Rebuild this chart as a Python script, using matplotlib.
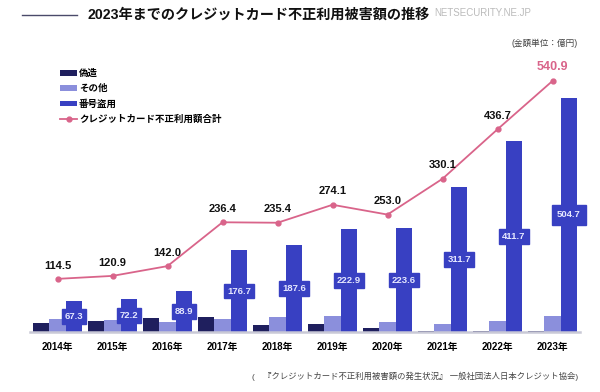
import matplotlib
matplotlib.use("Agg")
import matplotlib.pyplot as plt
import numpy as np

plt.rcParams['font.family'] = ['Liberation Sans', 'Noto Sans CJK JP', 'DejaVu Sans']

# データ（億円）
years = ['2014年', '2015年', '2016年', '2017年', '2018年',
         '2019年', '2020年', '2021年', '2022年', '2023年']
gizou = [19.5, 23.1, 30.6, 32.2, 16.0, 16.7, 8.5, 1.5, 1.8, 2.1]
sonota = [27.7, 25.6, 22.5, 27.5, 31.8, 34.5, 20.9, 16.9, 23.2, 34.1]
bangou = [67.3, 72.2, 88.9, 176.7, 187.6, 222.9, 223.6, 311.7, 411.7, 504.7]
goukei = [114.5, 120.9, 142.0, 236.4, 235.4, 274.1, 253.0, 330.1, 436.7, 540.9]

c_gizou = '#1f1f5e'
c_sonota = '#8b8fdc'
c_bangou = '#3840c2'
c_line = '#d9648a'

fig = plt.figure(figsize=(6, 3.92), dpi=100)
ax = fig.add_axes([0.05, 0.153, 0.9167, 0.694])

x = np.arange(len(years))
w = 0.3
b1 = ax.bar(x - w, gizou, w, color=c_gizou, label='偽造')
b2 = ax.bar(x, sonota, w, color=c_sonota, label='その他')
b3 = ax.bar(x + w, bangou, w, color=c_bangou, label='番号盗用')
l1, = ax.plot(x, goukei, color=c_line, lw=1.3, marker='o', ms=3.5,
              label='クレジットカード不正利用額合計')

# 番号盗用のラベル
for i, v in enumerate(bangou):
    pad = 0.55 if i == len(bangou) - 1 else 0.3
    ax.text(x[i] + w, v / 2, f'{v:.1f}', ha='center', va='center',
            fontsize=6.8, fontweight='bold', color='#e6e8ff',
            bbox=dict(boxstyle=f'square,pad={pad}', fc=c_bangou, ec=c_bangou))

# 合計のラベル
for i, v in enumerate(goukei):
    last = i == len(goukei) - 1
    ax.annotate(f'{v:.1f}', (x[i], v), xytext=(0, 6), textcoords='offset points',
                ha='center', va='bottom', fontsize=9 if last else 8,
                fontweight='bold', color=c_line if last else '#111111')

ax.set_xlim(-0.5, 9.5)
ax.set_ylim(0, 586)
ax.set_xticks(x)
ax.set_xticklabels(years, fontsize=7, fontweight='bold')
ax.tick_params(axis='x', length=0, pad=7)
ax.set_yticks([])
for s in ['top', 'right', 'left']:
    ax.spines[s].set_visible(False)
ax.spines['bottom'].set_color('#c9c9d6')
ax.spines['bottom'].set_linewidth(1.8)

leg = ax.legend([b1, b2, b3, l1], [h.get_label() for h in [b1, b2, b3, l1]],
                loc='upper left', bbox_to_anchor=(0.048, 0.98), frameon=False,
                fontsize=6.8, handlelength=1.8, handleheight=0.5,
                labelspacing=0.62, handletextpad=0.2, borderaxespad=0)
for t in leg.get_texts():
    t.set_fontweight('bold')

# タイトル
fig.lines.append(plt.Line2D([22 / 600, 77 / 600], [1 - 15 / 392] * 2,
                            transform=fig.transFigure, color='#4a4a6a', lw=1))
fig.text(88 / 600, 1 - 15 / 392, '2023年までのクレジットカード不正利用被害額の推移',
         fontsize=10.2, fontweight='bold', va='center', ha='left', color='#111111')
fig.text(434 / 600, 1 - 13 / 392, 'NETSECURITY.NE.JP', fontsize=7,
         color='#bbbbbb', va='center', ha='left')
fig.text(578 / 600, 1 - 43 / 392, '(金額単位：億円)', fontsize=6.2,
         color='#444444', va='center', ha='right')
fig.text(578 / 600, 1 - 376 / 392,
         '(　『クレジットカード不正利用被害額の発生状況』 一般社団法人日本クレジット協会)',
         fontsize=6, color='#444444', va='center', ha='right')

fig.savefig('out.png', dpi=100)
